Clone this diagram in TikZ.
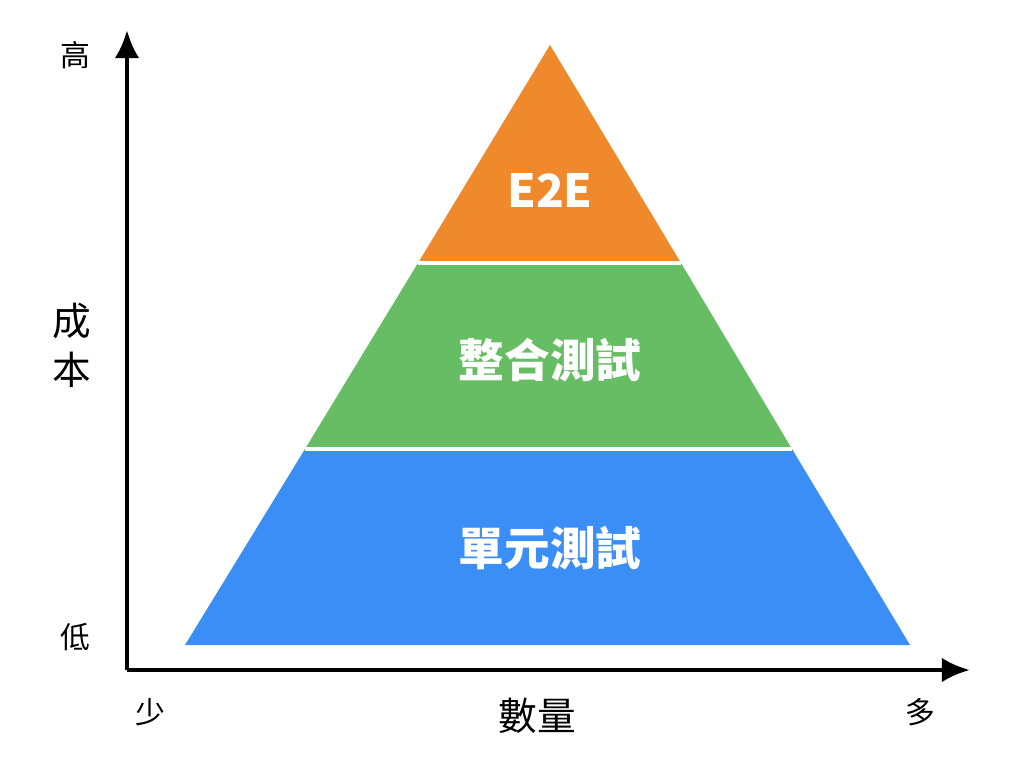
\documentclass[tikz,border=0pt]{standalone}
\usepackage{fontspec}
\setmainfont{Noto Sans CJK TC}
\usetikzlibrary{arrows.meta}
\definecolor{topclr}{HTML}{F0892C}
\definecolor{midclr}{HTML}{66BD63}
\definecolor{lowclr}{HTML}{3A8EF6}
\tikzset{
  band/.style={draw=white, line width=2.5pt, line join=miter},
  bandtext/.style={text=white, font=\bfseries\fontsize{26}{30}\selectfont},
  axislabel/.style={font=\fontsize{17}{20}\selectfont},
}
\begin{document}
\begin{tikzpicture}[x=0.02cm, y=-0.02cm]
        \useasboundingbox (0,0) rectangle (1024,768);

        % Pyramid corners
        \coordinate (apex) at (550,45);
        \coordinate (tl) at (418,263);
        \coordinate (tr) at (681,263);
        \coordinate (ml) at (305,449);
        \coordinate (mr) at (792,449);
        \coordinate (bl) at (185,645);
        \coordinate (br) at (910,645);

        % Bands
        \fill[lowclr] (ml) -- (mr) -- (br) -- (bl) -- cycle;
        \fill[midclr] (tl) -- (tr) -- (mr) -- (ml) -- cycle;
        \fill[topclr] (apex) -- (tr) -- (tl) -- cycle;
        \draw[band] (tl) -- (tr);
        \draw[band] (ml) -- (mr);

        % Band labels
        \node[bandtext] (e2e) at (550,190) {E2E};
        \node[bandtext] (integ) at (550,360) {整合測試};
        \node[bandtext] (unit) at (550,548) {單元測試};

        % Axes
        \coordinate (origin) at (127,670);
        \coordinate (ytop) at (127,30);
        \coordinate (xend) at (970,670);
        \draw[line width=2.5pt, -{Latex[length=16pt,width=14pt]}] (origin) -- (ytop);
        \draw[line width=2.5pt, -{Latex[length=16pt,width=14pt]}] (origin) -- (xend);

        % Axis labels
        \node[axislabel] (high) at (75,55) {高};
        \node[axislabel] (low) at (75,637) {低};
        \node[font=\fontsize{22}{28}\selectfont, align=center] (cost) at (72,345) {成\\本};
        \node[axislabel] (few) at (150,712) {少};
        \node[font=\fontsize{22}{28}\selectfont] (count) at (537,716) {數量};
        \node[axislabel] (many) at (920,712) {多};
    \end{tikzpicture}
\end{document}
